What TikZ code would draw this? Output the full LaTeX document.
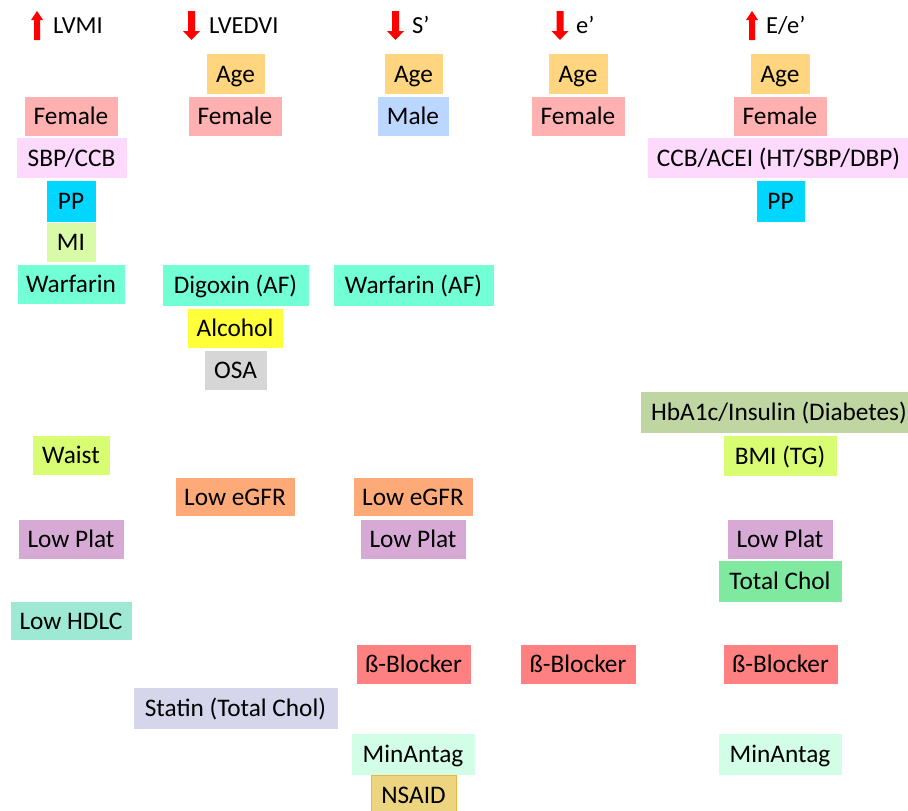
\documentclass[tikz,border=0pt]{standalone}
\usepackage{fontspec}
\setmainfont{Carlito}
\definecolor{agec}{HTML}{FFD57F}
\definecolor{femalec}{HTML}{FFB0B0}
\definecolor{lilacc}{HTML}{FDD9FD}
\definecolor{cyanc}{HTML}{00D6FF}
\definecolor{mic}{HTML}{D9FAA6}
\definecolor{aquac}{HTML}{72FFD5}
\definecolor{alcc}{HTML}{FFFF3A}
\definecolor{osac}{HTML}{D6D6D6}
\definecolor{malec}{HTML}{BBD6FF}
\definecolor{ygc}{HTML}{D9FD72}
\definecolor{egfrc}{HTML}{FDAA78}
\definecolor{platc}{HTML}{D7A9D5}
\definecolor{hdlcc}{HTML}{9DE9D4}
\definecolor{betac}{HTML}{FF8080}
\definecolor{statc}{HTML}{D5D5EC}
\definecolor{minac}{HTML}{D2FEE8}
\definecolor{nsaidc}{HTML}{EDD480}
\definecolor{nsaidb}{HTML}{E8B840}
\definecolor{hbac}{HTML}{BFD6A2}
\definecolor{tcholc}{HTML}{80E9A0}
\definecolor{arrowred}{HTML}{FF0000}
\newcommand{\bx}[8][]{\node[box,fill=#7,minimum width={(#5-#3)*1pt},minimum height={(#6-#4)*1pt},#1] (#2) at ({(#3+#5)/2},{(#4+#6)/2}) {#8};}
\newcommand{\uparr}[1]{\fill[arrowred] ({#1-3},40) -- ({#1+3},40) -- ({#1+3},20) -- ({#1+6},20) -- (#1,11) -- ({#1-6},20) -- ({#1-3},20) -- cycle;}
\newcommand{\downarr}[1]{\fill[arrowred] ({#1-3.5},11) -- ({#1+3.5},11) -- ({#1+3.5},31) -- ({#1+8.5},31) -- (#1,40) -- ({#1-8.5},31) -- ({#1-3.5},31) -- cycle;}
\begin{document}
\begin{tikzpicture}[x=1pt,y=-1pt,
  box/.style={inner sep=0pt,outer sep=0pt,draw=white,line width=0.6pt,
    font=\fontsize{25.3}{29}\selectfont,text=black,text height=17.5pt,text depth=0pt},
  head/.style={inner sep=0pt,anchor=base west,font=\fontsize{24.5}{28}\selectfont}]
\clip (0,0) rectangle (908,811);
\fill[white] (0,0) rectangle (908,811);
% headers
\uparr{37}
\node[head] (hLVMI) at (53,33) {LVMI};
\downarr{191.5}
\node[head] (hLVEDVI) at (209,33) {LVEDVI};
\downarr{395.5}
\node[head] (hS) at (412,33) {S’};
\downarr{560}
\node[head] (hE) at (576,33) {e’};
\uparr{752}
\node[head] (hEe) at (766,33) {E/e’};
% column 1
\bx{f1}{24}{96}{118}{136}{femalec}{Female}
\bx{sbp}{16}{137}{127}{178}{lilacc}{SBP/CCB}
\bx{pp1}{46}{180}{96}{222}{cyanc}{PP}
\bx{mi}{46}{222}{96}{262}{mic}{MI}
\bx{warf1}{17}{264}{125}{304}{aquac}{Warfarin}
\bx{waist}{32}{435}{110}{475}{ygc}{Waist}
\bx{plat1}{18}{519}{124}{559}{platc}{Low Plat}
\bx{hdlc}{10}{601}{132}{640}{hdlcc}{Low HDLC}
% column 2
\bx{age2}{206}{53}{265}{94}{agec}{Age}
\bx{f2}{188}{96}{282}{136}{femalec}{Female}
\bx{dig}{162}{264}{309}{306}{aquac}{Digoxin (AF)}
\bx{alc}{187}{308}{283}{348}{alcc}{Alcohol}
\bx{osa}{204}{350}{267}{390}{osac}{OSA}
\bx{egfr2}{175}{477}{295}{516}{egfrc}{Low eGFR}
\bx{statin}{133}{687}{338}{729}{statc}{Statin (Total Chol)}
% column 3
\bx{age3}{384}{53}{443}{94}{agec}{Age}
\bx{male}{377}{96}{449}{136}{malec}{Male}
\bx{warf3}{333}{264}{494}{306}{aquac}{Warfarin (AF)}
\bx{egfr3}{353}{477}{473}{516}{egfrc}{Low eGFR}
\bx{plat3}{360}{519}{466}{559}{platc}{Low Plat}
\bx{beta3}{356}{644}{471}{684}{betac}{ß-Blocker}
\bx{mina3}{351}{733}{475}{775}{minac}{MinAntag}
\bx[draw=nsaidb,line width=1pt]{nsaid}{371}{775}{456}{815}{nsaidc}{NSAID}
% column 4
\bx{age4}{548}{53}{608}{94}{agec}{Age}
\bx{f4}{531}{96}{625}{136}{femalec}{Female}
\bx{beta4}{520}{644}{636}{684}{betac}{ß-Blocker}
% column 5
\bx{age5}{750}{53}{810}{94}{agec}{Age}
\bx{f5}{733}{96}{827}{136}{femalec}{Female}
\bx{ccb}{647}{137}{910}{178}{lilacc}{CCB/ACEI (HT/SBP/DBP)}
\bx{pp5}{756}{180}{805}{222}{cyanc}{PP}
\bx{hba}{640}{391}{918}{433}{hbac}{HbA1c/Insulin (Diabetes)}
\bx{bmi}{723}{435}{837}{476}{ygc}{BMI (TG)}
\bx{plat5}{727}{519}{833}{559}{platc}{Low Plat}
\bx{tchol}{718}{560}{842}{602}{tcholc}{Total Chol}
\bx{beta5}{723}{644}{838}{684}{betac}{ß-Blocker}
\bx{mina5}{718}{733}{842}{775}{minac}{MinAntag}
\end{tikzpicture}
\end{document}
